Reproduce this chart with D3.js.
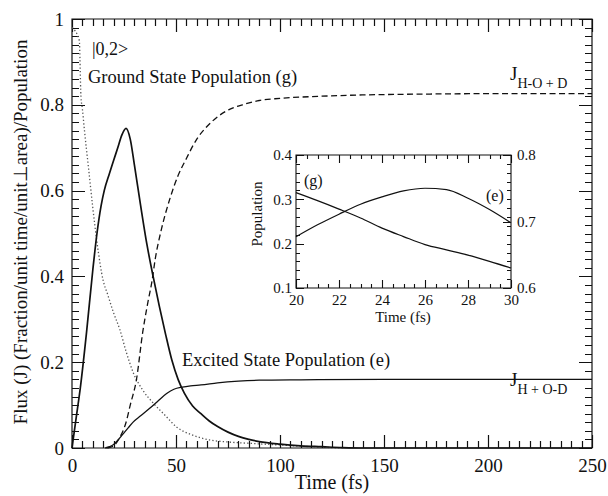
<!DOCTYPE html>
<html>
<head>
<meta charset="utf-8">
<script src="https://cdn.jsdelivr.net/npm/d3@7"></script>
<style>
  body { margin: 0; background: #fff; }
  svg { display: block; }
  text { font-family: "Liberation Serif", "Times New Roman", serif; fill: #111; }
</style>
</head>
<body>
<div class="chart"></div>
<script>
const width = 608;
const height = 496;

// main plot data
const peakTime = [0, 1, 2, 4, 7, 10, 12, 14, 15.5, 18, 20, 22, 24, 26, 28, 30, 33, 36, 39, 42, 45, 48, 51, 54, 58, 62, 66, 70, 75, 80, 85, 90, 100, 110, 120, 130, 140, 250];
const peakFlux = [0, 0.035, 0.07, 0.14, 0.27, 0.415, 0.5, 0.565, 0.6, 0.64, 0.67, 0.7, 0.73, 0.745, 0.72, 0.66, 0.565, 0.475, 0.4, 0.33, 0.265, 0.205, 0.16, 0.128, 0.098, 0.08, 0.063, 0.05, 0.037, 0.027, 0.02, 0.015, 0.009, 0.005, 0.003, 0.001, 0, 0];

const excitedTime = [16, 18, 20, 22, 24.6, 27, 29.5, 33, 37.5, 41, 45.5, 49, 53, 57, 62, 70, 80, 90, 110, 150, 200, 250];
const excitedPop = [0, 0.003, 0.008, 0.018, 0.033, 0.047, 0.061, 0.075, 0.093, 0.108, 0.127, 0.137, 0.142, 0.145, 0.147, 0.152, 0.156, 0.158, 0.159, 0.16, 0.16, 0.16];

const jhoTime = [17, 20, 23, 26, 28, 31, 34, 36.5, 38.5, 40, 43, 47, 51, 55, 60, 65, 70, 76, 82, 90, 100, 120, 140, 170, 200, 250];
const jhoFlux = [0, 0.005, 0.025, 0.06, 0.1, 0.16, 0.27, 0.34, 0.39, 0.44, 0.51, 0.58, 0.635, 0.675, 0.72, 0.75, 0.772, 0.79, 0.8, 0.81, 0.815, 0.82, 0.823, 0.825, 0.826, 0.826];

const groundTime = [0, 3.5, 4.3, 5, 6, 8, 10, 12, 15, 17, 20, 23, 26, 29.5, 34, 39, 45, 50, 58, 66, 75, 85, 100, 115, 130];
const groundPop = [0.98, 0.95, 0.82, 0.79, 0.74, 0.65, 0.56, 0.48, 0.39, 0.36, 0.315, 0.276, 0.225, 0.175, 0.135, 0.105, 0.075, 0.05, 0.03, 0.019, 0.014, 0.011, 0.007, 0.003, 0];

// inset data
const insetTime = [20, 21, 22, 23, 24, 25, 26, 27, 28, 29, 30];
const insetGround = [0.315, 0.297, 0.278, 0.258, 0.235, 0.216, 0.198, 0.186, 0.174, 0.16, 0.145];
const insetExcited = [0.677, 0.695, 0.711, 0.726, 0.737, 0.746, 0.75, 0.748, 0.735, 0.718, 0.698];

const xMajor = [0, 50, 100, 150, 200, 250];
const yMajor = [0, 0.2, 0.4, 0.6, 0.8, 1];
const insetXMajor = [20, 22, 24, 26, 28, 30];
const insetYLeft = [0.1, 0.2, 0.3, 0.4];
const insetYRight = [0.6, 0.7, 0.8];

const svg = d3.select('div.chart')
    .append('svg')
    .attr('width', width)
    .attr('height', height);

const x = d3.scaleLinear().domain([0, 250]).range([72, 592]);
const y = d3.scaleLinear().domain([0, 1]).range([448, 19]);

const fmt = d3.format('');

function zip(ts, vs) {
  return ts.map((t, i) => [t, vs[i]]);
}

// axis used only for the labels, tick marks go into the frame path
function labelAxis(g, size) {
  g.select('.domain').remove();
  g.selectAll('.tick line').remove();
  g.selectAll('text').attr('font-size', size).attr('font-family', null).attr('fill', '#111');
}

// sub-path string for inward tick marks along one side
function tickPath(values, scale, fixed, len, side) {
  return values.map((v) => {
    const p = Math.round(scale(v)) + 0.5;
    if (side === 'bottom') return `M${p},${fixed}v${-len}`;
    if (side === 'top') return `M${p},${fixed}v${len}`;
    if (side === 'left') return `M${fixed},${p}h${len}`;
    return `M${fixed},${p}h${-len}`;
  }).join('');
}

// one path: box outline plus all its tick marks
function frameBox(parent, x0, y0, x1, y1, tickParts, sw) {
  parent.append('path')
      .attr('d', `M${x0},${y0}H${x1}V${y1}H${x0}Z` + tickParts.join(''))
      .attr('fill', 'none')
      .attr('stroke', '#111')
      .attr('stroke-width', sw);
}

// ---- main frame
const minorX = d3.range(0, 251, 5);
const minorY = d3.range(0, 51).map((d) => d / 50);

const frame = svg.append('g').attr('class', 'frame');
frameBox(frame, x(0), y(1), x(250), y(0), [
  tickPath(minorX, x, y(0), 7, 'bottom'),
  tickPath(xMajor, x, y(0), 13, 'bottom'),
  tickPath(minorX, x, y(1), 7, 'top'),
  tickPath(xMajor, x, y(1), 13, 'top'),
  tickPath(minorY, y, x(0), 7, 'left'),
  tickPath(yMajor, y, x(0), 13, 'left'),
  tickPath(minorY, y, x(250), 7, 'right'),
  tickPath(yMajor, y, x(250), 13, 'right'),
], 1.2);

frame.append('g').attr('transform', `translate(0,${y(0)})`)
    .call(d3.axisBottom(x).tickValues(xMajor).tickSize(0).tickPadding(11).tickFormat(fmt))
    .call(labelAxis, 19);
frame.append('g').attr('transform', `translate(${x(0)},0)`)
    .call(d3.axisLeft(y).tickValues(yMajor).tickSize(0).tickPadding(8).tickFormat(fmt))
    .call(labelAxis, 19);

// ---- main curves
const lineGen = d3.line()
    .x((d) => x(d[0]))
    .y((d) => y(d[1]))
    .curve(d3.curveMonotoneX);

svg.append('path').datum(zip(groundTime, groundPop))
    .attr('d', lineGen).attr('fill', 'none')
    .attr('stroke', '#555').attr('stroke-width', 1.3)
    .attr('stroke-dasharray', '1.3,2.2');

svg.append('path').datum(zip(jhoTime, jhoFlux))
    .attr('d', lineGen).attr('fill', 'none')
    .attr('stroke', '#111').attr('stroke-width', 1.3)
    .attr('stroke-dasharray', '6,3.5');

svg.append('path').datum(zip(excitedTime, excitedPop))
    .attr('d', lineGen).attr('fill', 'none')
    .attr('stroke', '#111').attr('stroke-width', 1.3);

svg.append('path').datum(zip(peakTime, peakFlux))
    .attr('d', lineGen).attr('fill', 'none')
    .attr('stroke', '#111').attr('stroke-width', 1.7);

// ---- main labels
svg.append('text').attr('x', 92).attr('y', 55).attr('font-size', 18).text('|0,2>');
svg.append('text').attr('x', 88).attr('y', 83).attr('font-size', 18.5).text('Ground State Population (g)');
svg.append('text').attr('x', 182).attr('y', 366).attr('font-size', 18.5).text('Excited State Population (e)');

const j1 = svg.append('text').attr('x', 510).attr('y', 80).attr('font-size', 19);
j1.append('tspan').text('J');
j1.append('tspan').attr('dy', 8).attr('font-size', 14).text('H-O + D');

const j2 = svg.append('text').attr('x', 510).attr('y', 386).attr('font-size', 19);
j2.append('tspan').text('J');
j2.append('tspan').attr('dy', 8).attr('font-size', 14).text('H + O-D');

svg.append('text')
    .attr('transform', 'translate(27,232) rotate(-90)')
    .attr('text-anchor', 'middle').attr('font-size', 19)
    .text('Flux (J) (Fraction/unit time/unit\u22A5area)/Population');

svg.append('text').attr('x', 332).attr('y', 489)
    .attr('text-anchor', 'middle').attr('font-size', 20).text('Time (fs)');

// ---- inset
const xi = d3.scaleLinear().domain([20, 30]).range([296, 511]);
const yl = d3.scaleLinear().domain([0.1, 0.4]).range([288, 155]);
const yr = d3.scaleLinear().domain([0.6, 0.8]).range([288, 155]);

const inset = svg.append('g');
inset.append('rect')
    .attr('x', xi(20)).attr('y', yl(0.4))
    .attr('width', xi(30) - xi(20)).attr('height', yl(0.1) - yl(0.4))
    .attr('fill', '#fff');

const iMinorX = d3.range(0, 21).map((d) => 20 + d * 0.5);
const iMinorY = d3.range(0, 16).map((d) => 0.1 + d * 0.02);

frameBox(inset, xi(20), yl(0.4), xi(30), yl(0.1), [
  tickPath(iMinorX, xi, yl(0.1), 4, 'bottom'),
  tickPath(insetXMajor, xi, yl(0.1), 8, 'bottom'),
  tickPath(iMinorX, xi, yl(0.4), 4, 'top'),
  tickPath(insetXMajor, xi, yl(0.4), 8, 'top'),
  tickPath(iMinorY, yl, xi(20), 4, 'left'),
  tickPath(insetYLeft, yl, xi(20), 8, 'left'),
  tickPath(iMinorY, yl, xi(30), 4, 'right'),
  tickPath(insetYRight, yr, xi(30), 8, 'right'),
], 1.1);

inset.append('g').attr('transform', `translate(0,${yl(0.1)})`)
    .call(d3.axisBottom(xi).tickValues(insetXMajor).tickSize(0).tickPadding(6).tickFormat(fmt))
    .call(labelAxis, 15);
inset.append('g').attr('transform', `translate(${xi(20)},0)`)
    .call(d3.axisLeft(yl).tickValues(insetYLeft).tickSize(0).tickPadding(4).tickFormat(fmt))
    .call(labelAxis, 15);
inset.append('g').attr('transform', `translate(${xi(30)},0)`)
    .call(d3.axisRight(yr).tickValues(insetYRight).tickSize(0).tickPadding(6).tickFormat(fmt))
    .call(labelAxis, 15);

const insetLeftLine = d3.line().x((d) => xi(d[0])).y((d) => yl(d[1])).curve(d3.curveMonotoneX);
const insetRightLine = d3.line().x((d) => xi(d[0])).y((d) => yr(d[1])).curve(d3.curveMonotoneX);

inset.append('path').datum(zip(insetTime, insetGround))
    .attr('d', insetLeftLine)
    .attr('fill', 'none').attr('stroke', '#111').attr('stroke-width', 1.2);
inset.append('path').datum(zip(insetTime, insetExcited))
    .attr('d', insetRightLine)
    .attr('fill', 'none').attr('stroke', '#111').attr('stroke-width', 1.2);

inset.append('text').attr('x', 304).attr('y', 186).attr('font-size', 16).text('(g)');
inset.append('text').attr('x', 486).attr('y', 201).attr('font-size', 16).text('(e)');
inset.append('text')
    .attr('transform', 'translate(262,214) rotate(-90)')
    .attr('text-anchor', 'middle').attr('font-size', 15).text('Population');
inset.append('text').attr('x', 403).attr('y', 322)
    .attr('text-anchor', 'middle').attr('font-size', 15).text('Time (fs)');
</script>
</body>
</html>
